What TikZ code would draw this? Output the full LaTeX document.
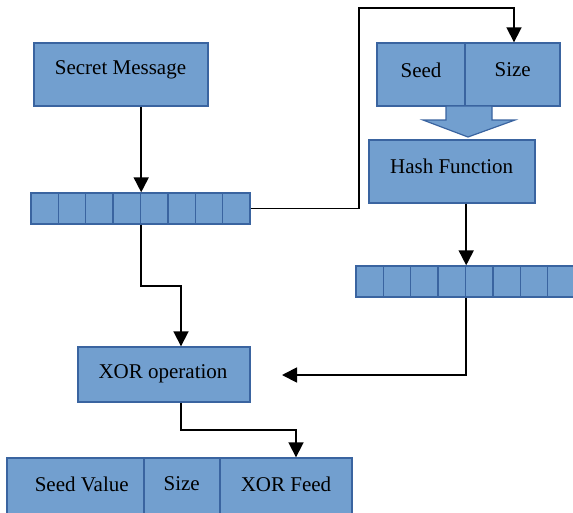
\documentclass[tikz,border=0pt]{standalone}
\usepackage{fontspec}
\setmainfont{Liberation Serif}
\usetikzlibrary{arrows.meta}
\definecolor{boxfill}{RGB}{114,159,207}
\definecolor{boxline}{RGB}{58,100,160}
\tikzset{
  box/.style={draw=boxline, fill=boxfill, line width=1.4pt, rectangle, inner sep=0pt},
  cell/.style={draw=boxline, fill=boxfill, line width=1.4pt, rectangle, inner sep=0pt, minimum width=27.375pt, minimum height=31pt},
  lbl/.style={inner sep=0pt, font=\fontsize{21}{24}\selectfont},
  conn/.style={line width=1.8pt, -{Triangle[width=15pt,length=15pt]}},
}
\begin{document}
\begin{tikzpicture}[x=1pt,y=-1pt]
\useasboundingbox (0,0) rectangle (573,512);
\clip (0,0) rectangle (573,512);
% Secret message
\node[box, minimum width=174pt, minimum height=63pt] (sm) at (121,74.5) {};
\node[lbl] (smt) at (120.5,70) {Secret Message};
% array 1
\foreach \i in {1,...,8}{
  \node[cell] (a\i) at ({31+(\i-0.5)*27.375},208.5) {};
}
% Seed / Size
\node[box, minimum width=88pt, minimum height=63pt] (seed) at (421,74.5) {};
\node[box, minimum width=95pt, minimum height=63pt] (size) at (512.5,74.5) {};
\node[lbl] (seedt) at (421,70) {Seed};
\node[lbl] (sizet) at (512.7,70) {Size};
% block arrow
\draw[draw=boxline, fill=boxfill, line width=1.2pt, line join=miter]
  (446,106) -- (492,106) -- (492,120) -- (515,120) -- (468,137) -- (423,120) -- (446,120) -- cycle;
% Hash function
\node[box, minimum width=166pt, minimum height=63pt] (hash) at (452,171.5) {};
\node[lbl] (hasht) at (451.7,166) {Hash Function};
% array 2
\foreach \i in {1,...,8}{
  \node[cell] (b\i) at ({356+(\i-0.5)*27.375},281.5) {};
}
% XOR operation
\node[box, minimum width=172pt, minimum height=55pt] (xor) at (164,374.5) {};
\node[lbl] (xort) at (163,374) {XOR operation};
% bottom row
\node[box, minimum width=137pt, minimum height=70pt] (sv) at (75.5,493) {};
\node[box, minimum width=76pt, minimum height=70pt] (sz) at (182,493) {};
\node[box, minimum width=132pt, minimum height=70pt] (xf) at (286,493) {};
\node[lbl] (svt) at (81.7,484) {Seed Value};
\node[lbl] (szt) at (181.7,484) {Size};
\node[lbl] (xft) at (286,484) {XOR Feed};
% connectors
\coordinate (c1) at (359,8);
\coordinate (c2) at (514,8);
\coordinate (c3) at (282,375);
\coordinate (c4) at (181,286);
\coordinate (c5) at (181,430);
\coordinate (c6) at (296,430);
\draw[conn] (sm.south -| a4.north east) -- (a4.north east);
\draw[conn] (a8.east) -- (a8.east -| c1) -- (c1) -- (c2) -- (size.north -| c2);
\draw[conn] (hash.south -| b4.north east) -- (b4.north east);
\draw[conn] (b4.south east) -- (b4.south east |- c3) -- (c3);
\draw[conn] (a4.south east) -- (a4.south east |- c4) -- (c4) -- (xor.north -| c4);
\draw[conn] (xor.south -| c5) -- (c5) -- (c6) -- (xf.north -| c6);
\end{tikzpicture}
\end{document}
